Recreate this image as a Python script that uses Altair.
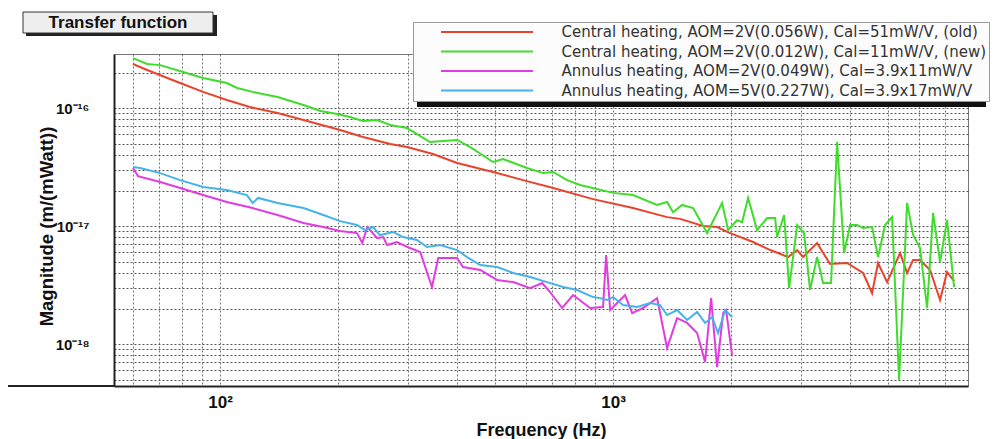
import altair as alt
import pandas as pd

TITLE = "Transfer function"
X_TITLE = "Frequency (Hz)"
Y_TITLE = "Magnitude (m/(mWatt))"
SERIES = [
    "Central heating, AOM=2V(0.056W), Cal=51mW/V, (old)",
    "Central heating, AOM=2V(0.012W), Cal=11mW/V, (new)",
    "Annulus heating, AOM=2V(0.049W), Cal=3.9x11mW/V",
    "Annulus heating, AOM=5V(0.227W), Cal=3.9x17mW/V",
]
COLORS = ["#e8432c", "#40dc2c", "#e23ce0", "#45b3ea"]

red_freq = [60, 65.2, 79.1, 90.5, 104, 119, 140, 163, 202, 231, 271, 299, 348, 401, 495,
            590, 704, 889, 1124, 1372, 1481, 1694, 1839, 1985, 2271, 2510, 2789, 2940, 3043, 3304,
            3565, 3940, 4327, 4560, 4723, 4980, 5374, 5599, 5799, 6040, 6406, 6792, 7076, 7375]
red_mag = [2.36e-16, 2.10e-16, 1.63e-16, 1.37e-16, 1.17e-16, 1.02e-16, 9.07e-17, 7.91e-17, 6.51e-17,
           5.68e-17, 4.95e-17, 4.67e-17, 4.08e-17, 3.42e-17, 2.87e-17, 2.45e-17, 2.10e-17, 1.69e-17,
           1.42e-17, 1.19e-17, 1.15e-17, 1.0e-17, 9.81e-18, 8.72e-18, 7.32e-18, 6.26e-18, 5.46e-18,
           6.26e-18, 5.46e-18, 7.18e-18, 4.76e-18, 4.86e-18, 4.00e-18, 2.70e-18, 4.86e-18, 3.35e-18,
           5.90e-18, 4.00e-18, 5.15e-18, 5.15e-18, 4.24e-18, 2.36e-18, 4.08e-18, 3.42e-18]

green_freq = [60, 65.2, 70.4, 80.5, 90.5, 104, 110.5, 121, 140, 163, 180, 198.5, 214, 231, 251, 271,
              299, 342, 401, 433, 495, 525, 604, 663, 704, 764, 824, 1000, 1124, 1294, 1372, 1421,
              1498, 1598, 1735, 1894, 1962, 2068, 2129, 2206, 2325, 2466, 2584, 2614, 2724, 2805,
              2940, 3061, 3171, 3304, 3422, 3586, 3715, 3871, 4010, 4178, 4327, 4560, 4723, 4922,
              5128, 5342, 5599, 5799, 6040, 6295, 6519, 6792, 7076, 7375]
green_mag = [2.65e-16, 2.36e-16, 2.31e-16, 2.02e-16, 1.80e-16, 1.63e-16, 1.48e-16, 1.37e-16, 1.24e-16,
             1.06e-16, 9.43e-17, 8.90e-17, 8.39e-17, 7.76e-17, 7.91e-17, 7.18e-17, 6.77e-17, 5.15e-17,
             5.36e-17, 4.67e-17, 3.49e-17, 3.70e-17, 3.10e-17, 2.81e-17, 2.87e-17, 2.45e-17, 2.23e-17,
             1.91e-17, 1.83e-17, 1.51e-17, 1.60e-17, 1.31e-17, 1.51e-17, 1.42e-17, 8.72e-18, 1.57e-17,
             9.25e-18, 1.12e-17, 1.08e-17, 1.73e-17, 9.25e-18, 1.17e-17, 1.17e-17, 8.07e-18, 1.24e-17,
             2.98e-18, 1.02e-17, 8.72e-18, 2.87e-18, 5.46e-18, 3.29e-18, 3.29e-18, 5.15e-17, 5.90e-18,
             1.02e-17, 1.02e-17, 9.62e-18, 9.81e-18, 5.46e-18, 1.02e-17, 1.19e-17, 4.95e-19, 1.57e-17,
             8.39e-18, 6.51e-18, 2.02e-18, 1.29e-17, 4.95e-18, 1.12e-17, 3.04e-18]

magenta_freq = [60, 61.8, 70.4, 79.1, 90.5, 104, 121, 140, 163, 183, 202, 223, 230, 237, 251, 260,
                266, 282, 304, 323, 346, 359, 401, 415, 459, 507, 557, 615, 660, 691, 742, 791, 874,
                943, 960, 983, 1024, 1073, 1118, 1192, 1294, 1372, 1455, 1543, 1636, 1714, 1776,
                1839, 1906, 1939, 2008]
magenta_mag = [3.10e-17, 2.65e-17, 2.36e-17, 2.10e-17, 1.83e-17, 1.60e-17, 1.42e-17, 1.24e-17,
               1.06e-17, 9.81e-18, 9.07e-18, 8.72e-18, 7.18e-18, 9.81e-18, 7.91e-18, 8.07e-18,
               6.90e-18, 7.32e-18, 6.51e-18, 6.02e-18, 3.04e-18, 5.36e-18, 5.36e-18, 4.49e-18,
               4.24e-18, 3.49e-18, 3.35e-18, 2.98e-18, 3.29e-18, 2.76e-18, 2.02e-18, 2.60e-18,
               2.02e-18, 2.06e-18, 5.68e-18, 1.94e-18, 2.23e-18, 2.60e-18, 1.83e-18, 2.02e-18,
               2.45e-18, 9.25e-19, 1.66e-18, 1.51e-18, 1.24e-18, 7.04e-19, 2.45e-18, 6.38e-19,
               1.83e-18, 1.94e-18, 8.07e-19]

cyan_freq = [60, 62.6, 70.4, 79.1, 90.5, 104, 117, 121, 125, 140, 163, 183, 202, 223, 234, 245,
             255, 276, 292, 317, 336, 363, 401, 425, 459, 507, 557, 615, 679, 746, 810, 889, 927,
             965, 1000, 1060, 1151, 1242, 1317, 1372, 1455, 1543, 1636, 1714, 1786, 1850, 1928, 2008]
cyan_mag = [3.16e-17, 3.10e-17, 2.81e-17, 2.45e-17, 2.14e-17, 2.02e-17, 1.83e-17, 1.57e-17,
            1.73e-17, 1.57e-17, 1.42e-17, 1.24e-17, 1.10e-17, 1.02e-17, 9.25e-18, 9.81e-18,
            8.39e-18, 8.90e-18, 8.07e-18, 7.61e-18, 6.64e-18, 6.90e-18, 6.26e-18, 5.46e-18,
            4.67e-18, 4.49e-18, 4.00e-18, 3.70e-18, 3.35e-18, 3.04e-18, 2.87e-18, 2.50e-18,
            2.45e-18, 2.36e-18, 2.50e-18, 2.14e-18, 2.06e-18, 2.23e-18, 2.14e-18, 1.76e-18,
            1.94e-18, 1.60e-18, 1.87e-18, 1.51e-18, 1.69e-18, 1.24e-18, 1.94e-18, 1.69e-18]

x_grid = [60, 70, 80, 90, 100, 200, 300, 400, 500, 600, 700, 800, 900,
          1000, 2000, 3000, 4000, 5000, 6000, 7000, 8000]
y_grid = [5e-19, 6e-19, 7e-19, 8e-19, 9e-19,
          1e-18, 2e-18, 3e-18, 4e-18, 5e-18, 6e-18, 7e-18, 8e-18, 9e-18,
          1e-17, 2e-17, 3e-17, 4e-17, 5e-17, 6e-17, 7e-17, 8e-17, 9e-17,
          1e-16, 2e-16]
x_domain = [53.7, 8000]
y_domain = [4.41e-19, 2.87e-16]

rows = []
for name, fr, mg in zip(SERIES, [red_freq, green_freq, magenta_freq, cyan_freq],
                        [red_mag, green_mag, magenta_mag, cyan_mag]):
    for f, m in zip(fr, mg):
        rows.append({"series": name, "freq": f, "mag": m})
df = pd.DataFrame(rows)

W, H = 854, 332

x_axis = alt.Axis(
    values=x_grid,
    labelExpr="datum.value == 100 ? '10\u00b2' : datum.value == 1000 ? '10\u00b3' : ''",
    labelOverlap=False, labelFont="Liberation Sans", labelFontWeight="bold", labelFontSize=17,
    labelColor="#111", labelPadding=8, ticks=False,
    grid=True, gridDash=[2, 2], gridColor="#777", gridWidth=1,
    domain=True, domainColor="#222", domainWidth=2,
    title=X_TITLE, titleFont="Liberation Sans", titleFontWeight="bold", titleFontSize=18,
    titleColor="#111", titleX=427, titleY=44, titleBaseline="middle", titleAlign="center",
)
y_axis = alt.Axis(
    values=y_grid,
    labelExpr=("datum.value == 1e-16 ? '10\u207b\u00b9\u2076' : "
               "datum.value == 1e-17 ? '10\u207b\u00b9\u2077' : "
               "datum.value == 1e-18 ? '10\u207b\u00b9\u2078' : ''"),
    labelOverlap=False, labelFont="Liberation Sans", labelFontWeight="bold", labelFontSize=15,
    labelColor="#111", labelPadding=25, labelAlign="right", ticks=False,
    grid=True, gridDash=[2, 2], gridColor="#555", gridWidth=1,
    domain=True, domainColor="#222", domainWidth=2,
    title=Y_TITLE, titleFont="Liberation Sans", titleFontWeight="bold", titleFontSize=18.5,
    titleColor="#111", titleX=-68, titleY=172, titleAngle=270, titleBaseline="middle",
    titleAlign="center",
)

lines = alt.Chart(df).mark_line(strokeWidth=2, clip=True).encode(
    x=alt.X("freq:Q", scale=alt.Scale(type="log", domain=x_domain, nice=False), axis=x_axis),
    y=alt.Y("mag:Q", scale=alt.Scale(type="log", domain=y_domain, nice=False), axis=y_axis),
    color=alt.Color(
        "series:N",
        scale=alt.Scale(domain=SERIES, range=COLORS),
        legend=alt.Legend(
            orient="none", legendX=299, legendY=-32, title=None,
            symbolType="M-10,0L10,0", symbolSize=84.64, symbolStrokeWidth=2,
            symbolOffset=64, labelOffset=67, labelLimit=800,
            labelFont="DejaVu Sans", labelFontSize=15, labelColor="#333",
            fillColor="#fcfcfc", strokeColor="#999", padding=2.5, rowPadding=3.5,
        ),
    ),
    detail="series:N",
)

deco = pd.DataFrame({"label": [TITLE]})
title_shadow = alt.Chart(deco).mark_rect(color="#222").encode(
    x=alt.value(-88), x2=alt.value(103), y=alt.value(-39), y2=alt.value(-18))
title_box = alt.Chart(deco).mark_rect(fill="#eeeeee", stroke="#333", strokeWidth=1).encode(
    x=alt.value(-91), x2=alt.value(99), y=alt.value(-42), y2=alt.value(-21))
title_text = alt.Chart(deco).mark_text(
    font="Liberation Sans", fontWeight="bold", fontSize=17, color="#111",
    baseline="middle", align="center").encode(
    x=alt.value(4), y=alt.value(-31.5), text="label:N")
legend_shadow = alt.Chart(deco).mark_rect(color="#111").encode(
    x=alt.value(303), x2=alt.value(872), y=alt.value(-28), y2=alt.value(53))
base_line = alt.Chart(deco).mark_rule(color="#222", strokeWidth=2).encode(
    x=alt.value(-106), x2=alt.value(0), y=alt.value(H))

chart = alt.layer(
    legend_shadow, lines, title_shadow, title_box, title_text, base_line
).properties(
    width=W, height=H,
    padding={"left": 114, "top": 54, "right": 30, "bottom": 53},
    autosize=alt.AutoSizeParams(type="none"),
    background="white",
).configure_view(stroke="#777", strokeWidth=1)

chart.save("out.html", embed_options={"renderer": "svg", "actions": False})
